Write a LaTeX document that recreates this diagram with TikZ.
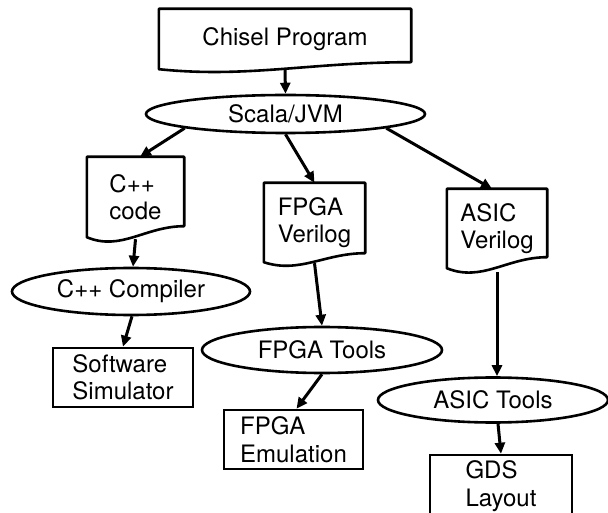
\documentclass[tikz,border=0pt]{standalone}
\usepackage{fontspec}
\setmainfont{TeX Gyre Heros}
\usetikzlibrary{shapes.geometric,arrows.meta,calc}

\tikzset{
  every node/.style={font=\fontsize{24}{27.5}\selectfont, inner sep=0pt},
  docbox/.style={draw=none, rectangle, align=left},
  plainbox/.style={draw, rectangle, line width=2.6pt, align=left},
  oval/.style={draw, ellipse, line width=2.6pt},
  outline/.style={line width=2.6pt, line join=round},
  flow/.style={line width=3pt, -{Triangle[length=11pt,width=10pt]}},
}

% page-like outline with a wavy lower edge; #2 is how far the right end rises
\newcommand\docoutline[2]{%
  \draw[outline] (#1.south west) -- (#1.north west) -- (#1.north east)
    -- ($(#1.south east)+(0,-#2)$)
    .. controls ($(#1.south west)!0.6!(#1.south east)+(0,-#2)$)
            and ($(#1.south west)!0.35!(#1.south east)+(0,1.3*#2)$)
    .. (#1.south west) -- cycle;}

\begin{document}
\begin{tikzpicture}[x=1pt, y=-1pt]
  \useasboundingbox (0,0) rectangle (608,513);
  \clip (0,0) rectangle (608,513);
  \fill[white] (0,0) rectangle (608,513);

  % sources and generated files
  \node[docbox, minimum width=252pt, minimum height=60pt] (chisel) at (285,39) {Chisel Program};
  \node[docbox, minimum width=97pt, minimum height=80pt] (cpp) at (135.5,197) {C++\\code};
  \node[docbox, minimum width=101pt, minimum height=79pt] (fpgav) at (314.5,222.5) {FPGA\\Verilog};
  \node[docbox, minimum width=100pt, minimum height=79pt] (asicv) at (497,228.5) {ASIC\\Verilog};
  \docoutline{chisel}{7}
  \docoutline{cpp}{11}
  \docoutline{fpgav}{9}
  \docoutline{asicv}{11}

  % tools
  \node[oval, minimum width=279pt, minimum height=38pt] (scala) at (285.5,114) {Scala/JVM};
  \node[oval, minimum width=238pt, minimum height=47pt] (cppc) at (131,291.5) {C++ Compiler};
  \node[oval, minimum width=240pt, minimum height=46pt] (fpgat) at (322,350) {FPGA Tools};
  \node[oval, minimum width=230pt, minimum height=45pt] (asict) at (493,400) {ASIC Tools};

  % results
  \node[plainbox, minimum width=140pt, minimum height=59pt] (swsim) at (123,377.5) {Software\\Simulator};
  \node[plainbox, minimum width=139pt, minimum height=59pt] (fpgae) at (293.5,439.5) {FPGA\\Emulation};
  \node[plainbox, minimum width=142pt, minimum height=62pt] (gds) at (501,486) {GDS\\Layout};

  % flow
  \draw[flow] (chisel.south) -- (scala.north);
  \draw[flow] (scala.188) -- ([xshift=4.5pt]cpp.north);
  \draw[flow] (scala.south) -- (fpgav.north);
  \draw[flow] (scala.-8) -- ([xshift=-5pt]asicv.north);
  \draw[flow] ([yshift=-2pt]cpp.south) -- ([xshift=2pt]cppc.north);
  \draw[flow] ([xshift=1pt]cppc.south) -- (swsim.north);
  \draw[flow] ([yshift=-1pt]fpgav.south) -- (fpgat.north);
  \draw[flow] (fpgat.south) -- ([xshift=3pt]fpgae.north);
  \draw[flow] ([yshift=-4pt]asicv.south) -- ([xshift=4pt]asict.north);
  \draw[flow] ([xshift=5pt]asict.south) -- (gds.north);
\end{tikzpicture}
\end{document}
